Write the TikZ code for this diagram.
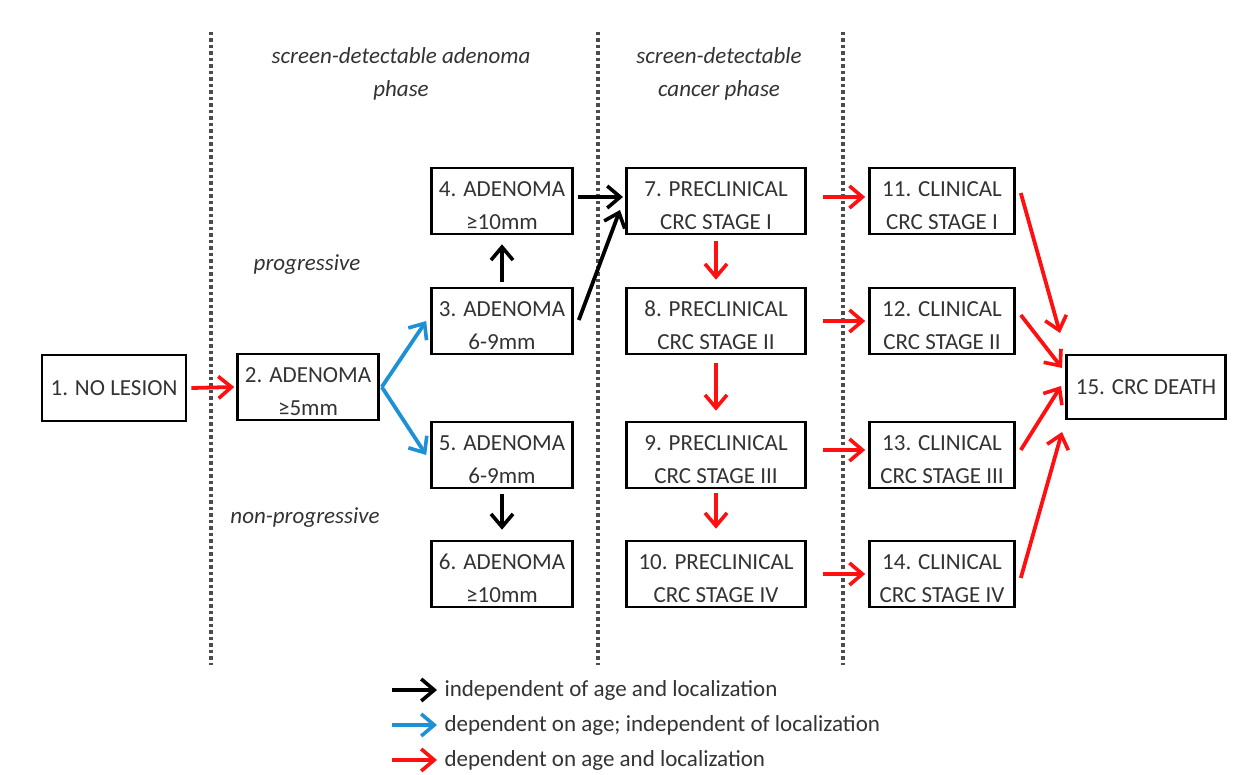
\documentclass[tikz,border=0pt]{standalone}
\usepackage{fontspec}
\setmainfont{Carlito}
\usetikzlibrary{arrows.meta}
\definecolor{txt}{HTML}{333333}
\definecolor{ablue}{HTML}{1E90D6}
\definecolor{ared}{HTML}{FF1010}
\newcommand\twolines[2]{\raisebox{-5pt}[\height][\depth]{\begin{tabular}{@{}c@{}}#1\\#2\end{tabular}}}
\begin{document}
\begin{tikzpicture}[x=1pt,y=-1pt,
  box/.style={draw=black,line width=2.6pt,minimum height=66pt,align=center,font=\fontsize{23}{33}\selectfont,text=txt,inner xsep=1pt,inner ysep=0pt},
  ar/.style={line width=3.8pt,-{Straight Barb[length=13pt,width=22pt,line width=3.6pt]}},
  blk/.style={ar,draw=black},
  blu/.style={ar,draw=ablue},
  rd/.style={ar,draw=ared},
  sep/.style={line width=3.5pt,dash pattern=on 3.5pt off 3pt,draw=gray!60!black},
  lab/.style={font=\itshape\fontsize{23}{33}\selectfont,text=txt,align=center},
  leg/.style={font=\fontsize{23}{26}\selectfont,text=txt,anchor=west}]
\useasboundingbox (0,0) rectangle (1249,775);
% separators
\draw[sep] (211,32) -- (211,665);
\draw[sep] (598,32) -- (598,665);
\draw[sep] (843,32) -- (843,665);
% labels
\node[lab] (l1) at (401,74) {screen-detectable adenoma\\phase};
\node[lab] (l2) at (719,74) {screen-detectable\\cancer phase};
\node[lab] (l3) at (307,265) {progressive};
\node[lab] (l4) at (305,518) {non-progressive};
% boxes
\node[box,minimum width=144pt] (n1) at (114,388) {1. NO LESION};
\node[box,minimum width=141pt] (n2) at (308,387) {\twolines{2. ADENOMA}{≥5mm}};
\node[box,minimum width=141pt] (n4) at (502,201) {\twolines{4. ADENOMA}{≥10mm}};
\node[box,minimum width=141pt] (n3) at (502,321) {\twolines{3. ADENOMA}{6-9mm}};
\node[box,minimum width=141pt] (n5) at (502,455) {\twolines{5. ADENOMA}{6-9mm}};
\node[box,minimum width=141pt] (n6) at (502,574) {\twolines{6. ADENOMA}{≥10mm}};
\node[box,minimum width=179pt] (n7) at (716,201) {\twolines{7. PRECLINICAL}{CRC STAGE I}};
\node[box,minimum width=179pt] (n8) at (716,321) {\twolines{8. PRECLINICAL}{CRC STAGE II}};
\node[box,minimum width=179pt] (n9) at (716,455) {\twolines{9. PRECLINICAL}{CRC STAGE III}};
\node[box,minimum width=179pt] (n10) at (716,574) {\twolines{10. PRECLINICAL}{CRC STAGE IV}};
\node[box,minimum width=145pt] (n11) at (942,201) {\twolines{11. CLINICAL}{CRC STAGE I}};
\node[box,minimum width=145pt] (n12) at (942,321) {\twolines{12. CLINICAL}{CRC STAGE II}};
\node[box,minimum width=145pt] (n13) at (942,455) {\twolines{13. CLINICAL}{CRC STAGE III}};
\node[box,minimum width=145pt] (n14) at (942,574) {\twolines{14. CLINICAL}{CRC STAGE IV}};
\node[box,minimum width=159pt,minimum height=64pt] (n15) at (1146,387) {15. CRC DEATH};
% connectors
\draw[rd] ([xshift=4pt]n1.east) -- ([xshift=-2pt]n2.west);
\draw[blu] ([xshift=2pt]n2.east) -- ([xshift=-4pt]n3.west);
\draw[blu] ([xshift=2pt]n2.east) -- ([xshift=-4pt]n5.west);
\draw[blk] ([yshift=5pt]n3.north) -- ([yshift=-9pt]n4.south);
\draw[blk] ([yshift=-5pt]n5.south) -- ([yshift=10pt]n6.north);
\coordinate (c4) at (623,197);
\coordinate (c3) at (620,210);
\draw[blk] ([xshift=4pt,yshift=4pt]n4.east) -- (c4);
\draw[blk] ([xshift=5pt,yshift=1pt]n3.east) -- (c3);
\draw[rd] ([yshift=-6pt]n7.south) -- ([yshift=7pt]n8.north);
\draw[rd] ([yshift=-8pt]n8.south) -- ([yshift=10pt]n9.north);
\draw[rd] ([yshift=-4pt]n9.south) -- ([yshift=11pt]n10.north);
\draw[rd] ([xshift=16pt,yshift=4pt]n7.east) -- ([xshift=-3pt,yshift=4pt]n11.west);
\draw[rd] ([xshift=16pt]n8.east) -- ([xshift=-3pt]n12.west);
\draw[rd] ([xshift=16pt,yshift=5pt]n9.east) -- ([xshift=-3pt,yshift=5pt]n13.west);
\draw[rd] ([xshift=16pt]n10.east) -- ([xshift=-3pt]n14.west);
\coordinate (d11) at (1060,333);
\coordinate (d12) at (1062,368);
\coordinate (d13) at (1061,386);
\coordinate (d14) at (1062,432);
\draw[rd] ([xshift=5pt,yshift=8pt]n11.east) -- (d11);
\draw[rd] ([xshift=5pt,yshift=6pt]n12.east) -- (d12);
\draw[rd] ([xshift=5pt,yshift=5pt]n13.east) -- (d13);
\draw[rd] ([xshift=5pt,yshift=-4pt]n14.east) -- (d14);
% legend
\coordinate (a1) at (392,690); \coordinate (b1) at (437,690);
\coordinate (a2) at (392,725); \coordinate (b2) at (437,725);
\coordinate (a3) at (392,760); \coordinate (b3) at (437,760);
\draw[blk] (a1) -- (b1);
\draw[blu] (a2) -- (b2);
\draw[rd] (a3) -- (b3);
\node[leg] (t1) at (441,690) {independent of age and localization};
\node[leg] (t2) at (441,725) {dependent on age; independent of localization};
\node[leg] (t3) at (441,760) {dependent on age and localization};
\end{tikzpicture}
\end{document}
